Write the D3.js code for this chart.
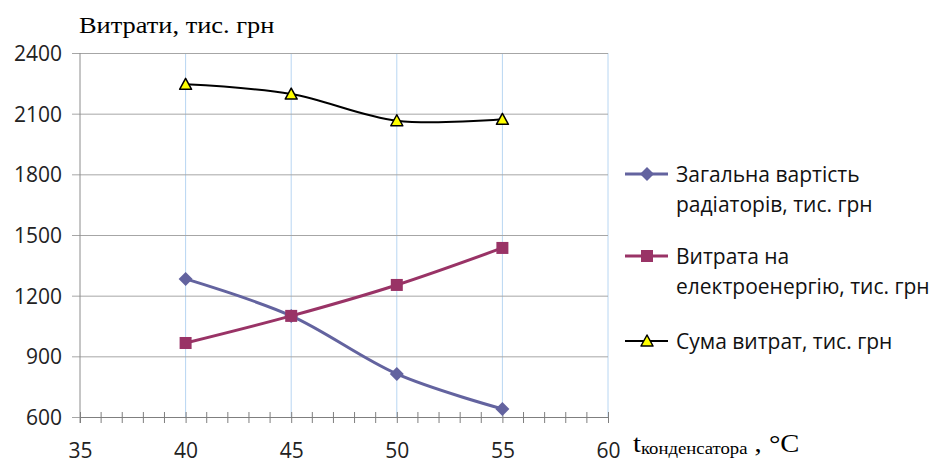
<!DOCTYPE html>
<html lang="uk">
<head>
<meta charset="UTF-8">
<title>Витрати</title>
<style>
  body { margin: 0; background: #fff; }
  svg { display: block; overflow: hidden; }
  .tick text { font-family: "Open Sans", sans-serif; font-size: 21px; fill: #222; }
</style>
</head>
<body>
<svg width="930" height="463"></svg>
<script src="https://d3js.org/d3.v7.min.js"></script>
<script>
// data
var temps = [40, 45, 50, 55];
var radiators = [1283, 1100, 813, 640];
var electricity = [966, 1100, 1253, 1436];
var totals = [2245, 2197, 2065, 2072];
var xTicks = [35, 40, 45, 50, 55, 60];
var yTicks = [600, 900, 1200, 1500, 1800, 2100, 2400];
var seriesNames = [
  ["Загальна вартість", "радіаторів, тис. грн"],
  ["Витрата на", "електроенергію, тис. грн"],
  ["Сума витрат, тис. грн"]
];

var svg = d3.select("svg"),
    margin = {left: 80, right: 322, top: 53, bottom: 46};
var width = +svg.attr("width") - margin.left - margin.right,
    height = +svg.attr("height") - margin.top - margin.bottom;

var x = d3.scaleLinear().domain([35, 60]).range([margin.left, margin.left + width]);
var y = d3.scaleLinear().domain([600, 2400]).range([margin.top + height, margin.top]);

// vertical light blue grid
svg.append("g").selectAll("line")
    .data(xTicks.slice(1))
    .enter().append("line")
    .attr("x1", d => x(d)).attr("x2", d => x(d))
    .attr("y1", y(2400)).attr("y2", y(600))
    .attr("stroke", "#b8d6f2").attr("stroke-width", 1);

// horizontal grid + y labels
var yAxis = svg.append("g")
    .attr("transform", "translate(" + margin.left + ",0)")
    .call(d3.axisLeft(y).tickValues(yTicks).tickSize(-width - 8).tickPadding(11).tickFormat(d3.format("d")));
yAxis.select(".domain").remove();
yAxis.selectAll(".tick line").attr("x1", -8).attr("x2", width).attr("stroke", "#a6a6a6");
yAxis.selectAll(".tick text").attr("x", -18).attr("dy", "0.36em");

// left axis line
svg.append("line")
    .attr("x1", x(35)).attr("x2", x(35))
    .attr("y1", y(2400)).attr("y2", y(600) + 6)
    .attr("stroke", "#8c8c8c");

// x axis
var xAxis = svg.append("g")
    .attr("transform", "translate(0," + y(600) + ")")
    .call(d3.axisBottom(x).tickValues(xTicks).tickSize(6).tickPadding(20));
xAxis.select(".domain").attr("stroke", "#7f7f7f");
xAxis.selectAll(".tick line").attr("stroke", "#7f7f7f").attr("y1", -5);

// minor ticks
svg.append("g").selectAll("line")
    .data(d3.range(36, 60).filter(d => d % 5 !== 0))
    .enter().append("line")
    .attr("x1", d => x(d)).attr("x2", d => x(d))
    .attr("y1", y(600) - 5).attr("y2", y(600) + 6)
    .attr("stroke", "#7f7f7f");

var line = d3.line()
    .x((d, i) => x(temps[i]))
    .y(d => y(d))
    .curve(d3.curveCardinal.tension(0));

var colors = ["#63639f", "#993366", "#000000"];

function diamond(g, cx, cy) {
  g.append("path")
    .attr("d", "M" + cx + "," + (cy - 7) + "L" + (cx + 7) + "," + cy + "L" + cx + "," + (cy + 7) + "L" + (cx - 7) + "," + cy + "Z")
    .attr("fill", colors[0]);
}
function square(g, cx, cy) {
  g.append("rect")
    .attr("x", cx - 6).attr("y", cy - 6).attr("width", 12).attr("height", 12)
    .attr("fill", colors[1]);
}
function triangle(g, cx, cy) {
  g.append("path")
    .attr("d", "M" + cx + "," + (cy - 6) + "L" + (cx + 6) + "," + (cy + 5) + "L" + (cx - 6) + "," + (cy + 5) + "Z")
    .attr("fill", "#ffff00").attr("stroke", "#000").attr("stroke-width", 1.5)
    .attr("stroke-linejoin", "round");
}
var markers = [diamond, square, triangle];
var allSeries = [radiators, electricity, totals];
var widths = [3, 3, 2];

allSeries.forEach(function(s, k) {
  svg.append("path")
    .datum(s)
    .attr("d", line)
    .attr("fill", "none")
    .attr("stroke", colors[k])
    .attr("stroke-width", widths[k]);
  var g = svg.append("g");
  s.forEach(function(v, i) { markers[k](g, x(temps[i]), y(v)); });
});

// legend
var legendY = [174, 256, 341];
seriesNames.forEach(function(lines, k) {
  var g = svg.append("g");
  g.append("line")
    .attr("x1", 625).attr("x2", 668)
    .attr("y1", legendY[k]).attr("y2", legendY[k])
    .attr("stroke", colors[k]).attr("stroke-width", widths[k]);
  markers[k](g, 647, legendY[k]);
  var t = g.append("text")
    .attr("x", 676).attr("y", legendY[k] + 8)
    .attr("font-family", "'Open Sans', sans-serif")
    .attr("font-size", 21)
    .attr("fill", "#111");
  lines.forEach(function(l, j) {
    t.append("tspan").attr("x", 676).attr("dy", j === 0 ? 0 : 30).text(l);
  });
});

// titles
svg.append("text")
  .attr("transform", "translate(79,33) scale(1.1,1)")
  .attr("font-family", "'Liberation Serif', serif")
  .attr("font-size", 24)
  .attr("fill", "#000")
  .text("Витрати, тис. грн");

svg.append("rect")
  .attr("x", 631).attr("y", 418).attr("width", 188).attr("height", 45)
  .attr("fill", "#fff");
var xt = svg.append("text")
  .attr("transform", "translate(633,452) scale(1.1,1)")
  .attr("font-family", "'Liberation Serif', serif")
  .attr("font-size", 26)
  .attr("fill", "#000");
xt.append("tspan").text("t");
xt.append("tspan").attr("font-size", 17).attr("dy", 2).text("конденсатора");
xt.append("tspan").attr("dy", -2).text(" , °C");
</script>
</body>
</html>
